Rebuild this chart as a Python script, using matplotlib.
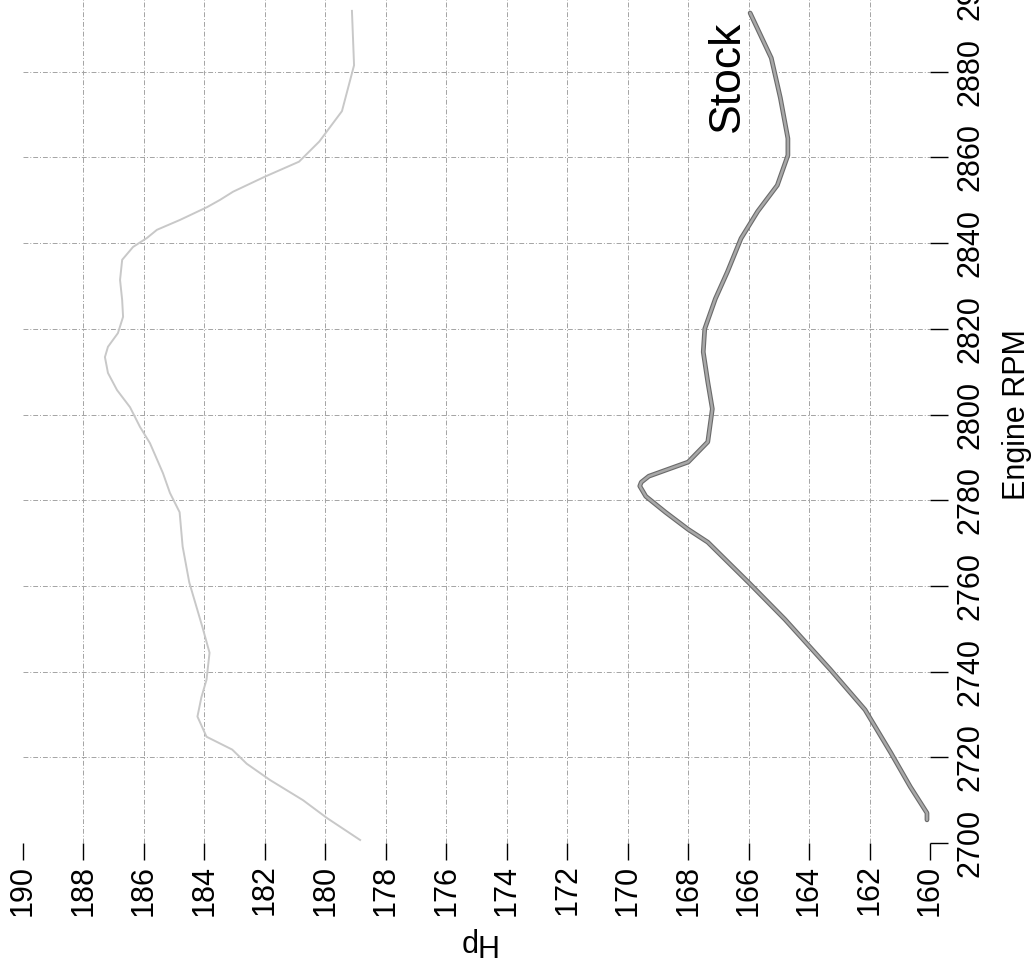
import numpy as np
import matplotlib
matplotlib.use("Agg")
import matplotlib.pyplot as plt

plt.rcParams['font.family'] = ['Liberation Sans', 'DejaVu Sans']

# Axis ticks
hp_ticks = list(range(160, 191, 2))
rpm_ticks = list(range(2700, 2901, 20))

# Stock run (dark trace): RPM, HP
stock_rpm = [2705.4, 2707.0, 2713.1, 2721.1, 2731.1, 2740.5, 2752.2, 2760.8,
             2770.2, 2773.2, 2777.2, 2780.9, 2783.3, 2784.2, 2785.6, 2788.9,
             2793.6, 2801.3, 2807.6, 2814.6, 2820.0, 2827.0, 2833.3, 2841.1,
             2847.4, 2853.5, 2860.5, 2864.4, 2873.9, 2883.2, 2893.7]
stock_hp = [160.1, 160.1, 160.65, 161.3, 162.15, 163.3, 164.8, 166.0,
            167.35, 168.0, 168.75, 169.4, 169.6, 169.55, 169.3, 168.0,
            167.35, 167.2, 167.35, 167.5, 167.45, 167.1, 166.7, 166.25,
            165.7, 165.05, 164.7, 164.7, 164.95, 165.25, 165.95]

# Second run (light trace): RPM, HP
mod_rpm = [2700.7, 2705.8, 2710.0, 2714.7, 2718.5, 2721.8, 2724.8, 2729.5,
           2734.0, 2738.1, 2744.4, 2750.5, 2760.8, 2769.2, 2777.2, 2781.7,
           2786.3, 2793.3, 2797.1, 2801.7, 2805.7, 2809.7, 2813.4, 2815.8,
           2819.0, 2822.8, 2826.7, 2831.4, 2836.1, 2839.1, 2841.2, 2843.1,
           2845.4, 2848.4, 2850.1, 2852.0, 2855.5, 2859.0, 2863.7, 2870.8,
           2881.5, 2894.2]
mod_hp = [178.85, 179.94, 180.74, 181.83, 182.6, 183.08, 183.93, 184.23,
          184.1, 183.93, 183.83, 184.07, 184.5, 184.72, 184.82, 185.14,
          185.37, 185.8, 186.13, 186.46, 186.89, 187.19, 187.29, 187.19,
          186.86, 186.69, 186.72, 186.79, 186.72, 186.36, 185.9, 185.57,
          184.81, 183.91, 183.48, 183.05, 182.0, 180.87, 180.2, 179.45,
          179.05, 179.12]

fig = plt.figure(figsize=(10.31, 9.6), dpi=100)
ax = fig.add_axes([23 / 1031, 117 / 960, 907 / 1031, 857 / 960])

ax.plot(mod_hp, mod_rpm, color='#c8c8c8', lw=1.4, clip_on=False)
ax.plot(stock_hp, stock_rpm, color='#6a6a6a', lw=3.4, solid_capstyle='round')
ax.plot(stock_hp, stock_rpm, color='#a8a8a8', lw=1.8, solid_capstyle='round')

ax.text(166.7, 2879, 'Stock', rotation=90, fontsize=32, ha='center', va='center')

ax.set_xlim(190, 160)
ax.set_ylim(2700, 2900)
ax.set_xticks(hp_ticks)
ax.set_yticks(rpm_ticks)

ax.yaxis.tick_right()
ax.yaxis.set_label_position('right')
for s in ax.spines.values():
    s.set_visible(False)

ax.grid(True, color='#a4a4a4', lw=0.7, linestyle=(0, (5, 2, 1, 2)))
for gl in [ax.xaxis.get_gridlines()[0], ax.xaxis.get_gridlines()[-1],
           ax.yaxis.get_gridlines()[0], ax.yaxis.get_gridlines()[-1]]:
    gl.set_visible(False)

ax.tick_params(axis='x', direction='out', length=12, width=1.0, pad=3.5,
               labelsize=22, labelrotation=90)
ax.tick_params(axis='y', direction='out', length=13, width=1.0, pad=5,
               labelsize=22, labelrotation=90)
for lbl in ax.get_yticklabels():
    lbl.set_va('center')

ax.set_xlabel('Hp', fontsize=22, rotation=180, labelpad=8)
ax.set_ylabel('Engine RPM', fontsize=22, rotation=90, labelpad=12)

plt.savefig('out.png', dpi=100)
